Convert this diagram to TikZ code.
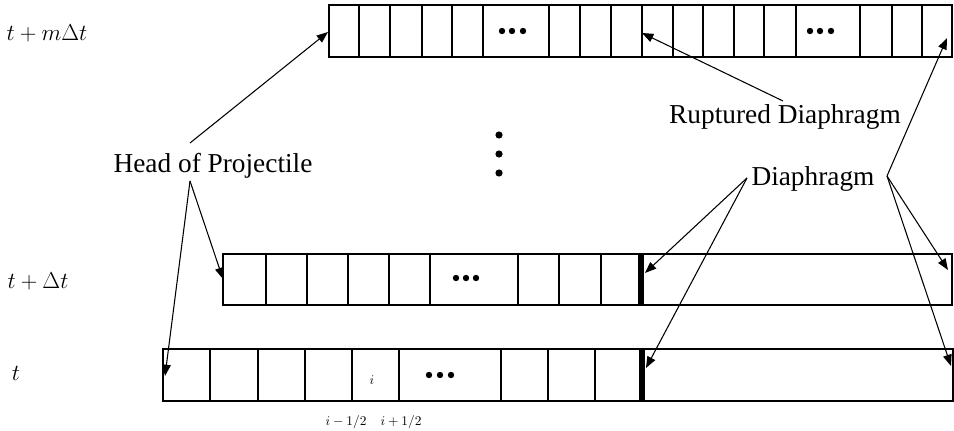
\documentclass[tikz,border=0pt]{standalone}
\usepackage{fontspec}
\setmainfont{Liberation Serif}
\usetikzlibrary{arrows.meta,calc}
\begin{document}
\begin{tikzpicture}[x=0.75pt,y=-0.75pt,
  cell/.style={line width=0.9pt},
  rowbox/.style={line width=1.1pt},
  diaph/.style={fill=black},
  lbl/.style={font=\fontsize{20.5}{24}\selectfont, inner sep=0pt},
  tlbl/.style={font=\fontsize{16}{19}\selectfont, inner sep=0pt},
  slbl/.style={font=\fontsize{10}{12}\selectfont, inner sep=0pt},
  ptr/.style={line width=0.8pt, -{Triangle[length=8.5pt,width=6.5pt]}},
  dot/.style={fill=black}
]
\useasboundingbox (0,0) rectangle (954,431);

% ---------- top row (t + m dt)
\draw[rowbox] (329,5) rectangle (952,57);
\foreach \x in {359,390,422,452,483,549,580,611,642,673,703,734,764,796,860,892,922}
  \draw[cell] (\x,5) -- (\x,57);
\draw[line width=1.8pt] (952,5) -- (952,57);
\foreach \x in {502,512,523,810,820,831} \fill[dot] (\x,31) circle (3.2);

% ---------- middle row (t + dt)
\draw[rowbox] (223,254) rectangle (952,305);
\foreach \x in {266,307,348,389,430,518,559,601}
  \draw[cell] (\x,254) -- (\x,305);
\fill[diaph] (638,254) rectangle (644,305);
\draw[line width=1.8pt] (952,254) -- (952,305);
\foreach \x in {456,466,476} \fill[dot] (\x,278) circle (3.2);

% ---------- bottom row (t)
\draw[rowbox] (163,349) rectangle (953,401);
\foreach \x in {210,258,305,352,399,501,548,595}
  \draw[cell] (\x,349) -- (\x,401);
\fill[diaph] (639,349) rectangle (645,401);
\draw[line width=1.8pt] (953,349) -- (953,401);
\foreach \x in {429,440,451} \fill[dot] (\x,375) circle (3.2);

% vertical ellipsis
\foreach \y in {135,154,173} \fill[dot] (499,\y) circle (3.6);

% ---------- labels
\node[tlbl] (lm) at (47,33) {$t + m\Delta t$};
\node[tlbl] (l1) at (38,281) {$t + \Delta t$};
\node[tlbl] (l0) at (16,373) {$t$};
\node[slbl] (li) at (372,380) {$i$};
\node[slbl] (lim) at (346,422) {$i-1/2$};
\node[slbl] (lip) at (401,422) {$i+1/2$};

\node[lbl] (hp) at (213,166) {Head of Projectile};
\node[lbl] (rd) at (785,117) {Ruptured Diaphragm};
\node[lbl] (dg) at (813,179) {Diaphragm};

% ---------- connector endpoints
\coordinate (hpA) at (190,143);
\coordinate (hpB) at (190,181);
\coordinate (tTop) at (328,32);
\coordinate (tMid) at (223,279);
\coordinate (tBot) at (165,376);
\coordinate (rdA) at (783,101);
\coordinate (tRup) at (642,33);
\coordinate (dgL) at (747,178);
\coordinate (dgR) at (887,176);
\coordinate (tDm) at (645,273);
\coordinate (tDb) at (646,368);
\coordinate (tRt) at (947,38);
\coordinate (tRm) at (948,270);
\coordinate (tRb) at (951,366);

% ---------- connectors
\draw[ptr] (hpA) -- (tTop);
\draw[ptr] (hpB) -- (tMid);
\draw[ptr] (hpB) -- (tBot);
\draw[ptr] (rdA) -- (tRup);
\draw[ptr] (dgL) -- (tDm);
\draw[ptr] (dgL) -- (tDb);
\draw[ptr] (dgR) -- (tRt);
\draw[ptr] (dgR) -- (tRm);
\draw[ptr] (dgR) -- (tRb);
\end{tikzpicture}
\end{document}
